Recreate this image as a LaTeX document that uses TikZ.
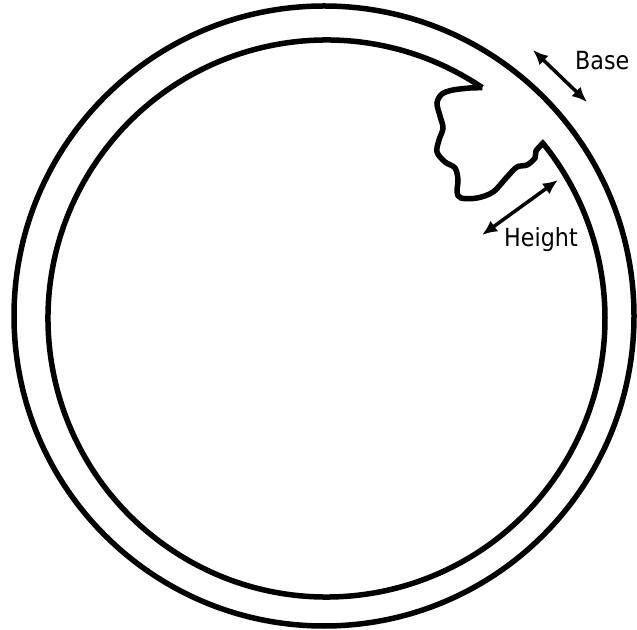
\documentclass[tikz,border=0pt]{standalone}
\usepackage{fontspec}
\setmainfont{DejaVu Sans}[FakeStretch=0.89]
\usetikzlibrary{arrows.meta,calc}
\tikzset{
  ring/.style={line width=5.5pt, draw=black},
  dimarrow/.style={line width=3.5pt, {Latex[length=15pt,width=13pt]}-{Latex[length=15pt,width=13pt]}},
  lbl/.style={anchor=base west, inner sep=0pt, font=\fontsize{25}{27}\selectfont}
}
\begin{document}
\begin{tikzpicture}[x=1pt,y=1pt]
\useasboundingbox (0,0) rectangle (637,629);
% outer circle
\draw[ring] (324,313) circle[radius=310];
% inner circle with crack
\coordinate (ic) at (326.5,310.5);
\draw[ring, line join=miter]
  ($(ic)+(56:278.5)$) coordinate (tipA)
  arc[start angle=56, end angle=399, radius=278.5] coordinate (tipB)
  -- plot[smooth, tension=0.55] coordinates {(542.9,485.8) (536,478) (535,471) (527,464) (517,462) (507,452) (493,437) (477,431) (461,431) (457,437) (458,449) (455,461) (445,467) (437,477) (439,489) (443,501) (440,513) (437,526) (442,535) (453,539) (470,541)}
  -- (tipA);
% Base arrow
\coordinate (b1) at (533,579);
\coordinate (b2) at (587,527);
\draw[dimarrow] (b1) -- (b2);
\node[lbl] (base) at (575,559) {Base};
% Height arrow
\coordinate (h1) at (482,394);
\coordinate (h2) at (558,449);
\draw[dimarrow] (h1) -- (h2);
\node[lbl] (height) at (504,382) {Height};
\end{tikzpicture}
\end{document}
